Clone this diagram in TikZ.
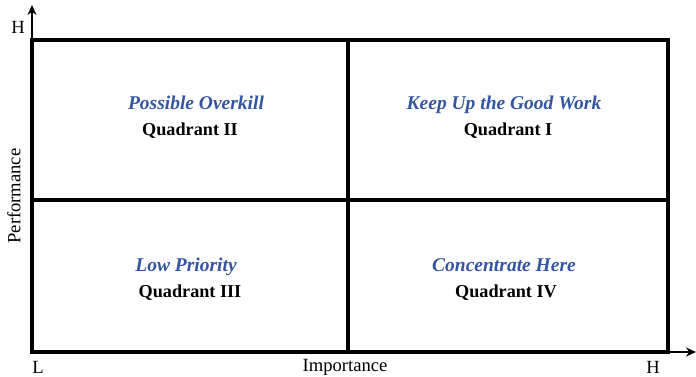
\documentclass[tikz,border=0pt]{standalone}
\usepackage{fontspec}
\setmainfont{Liberation Serif}
\usetikzlibrary{arrows.meta}
\definecolor{quadblue}{RGB}{52,86,160}
\tikzset{
  grid/.style={line width=3.2pt, line cap=rect},
  axis/.style={line width=1.8pt, -{Stealth[length=10pt,width=9pt]}},
  title/.style={font=\fontsize{19.5}{22}\selectfont\bfseries\itshape, text=quadblue, inner sep=0pt, anchor=base},
  quad/.style={font=\fontsize{18.2}{21}\selectfont\bfseries, inner sep=0pt, anchor=base},
  axlabel/.style={font=\fontsize{18.6}{21}\selectfont, inner sep=0pt}
}
\begin{document}
\begin{tikzpicture}[x=1pt,y=-1pt]
  \useasboundingbox (0,0) rectangle (696,376);
  % axes
  \coordinate (O) at (32,352);
  \coordinate (ytop) at (32,5);
  \coordinate (xend) at (696,352);
  \draw[axis] (O) -- (ytop);
  \draw[axis] (O) -- (xend);
  % quadrant grid
  \draw[grid] (32,40) rectangle (668,352);
  \draw[grid] (348,40) -- (348,352);
  \draw[grid] (32,200) -- (668,200);
  % quadrant labels
  \node[title] (t2) at (196,109) {Possible Overkill};
  \node[quad]  (q2) at (190,135) {Quadrant II};
  \node[title] (t1) at (504,109) {Keep Up the Good Work};
  \node[quad]  (q1) at (508,135) {Quadrant I};
  \node[title] (t3) at (186,271) {Low Priority};
  \node[quad]  (q3) at (190,297) {Quadrant III};
  \node[title] (t4) at (504,271) {Concentrate Here};
  \node[quad]  (q4) at (506,297) {Quadrant IV};
  % axis labels
  \node[axlabel] (hy) at (18,27) {H};
  \node[axlabel] (lx) at (38,367) {L};
  \node[axlabel] (hx) at (653,367) {H};
  \node[axlabel] (ix) at (345,367) {Importance};
  \node[axlabel, rotate=90] (py) at (14,196) {Performance};
\end{tikzpicture}
\end{document}
